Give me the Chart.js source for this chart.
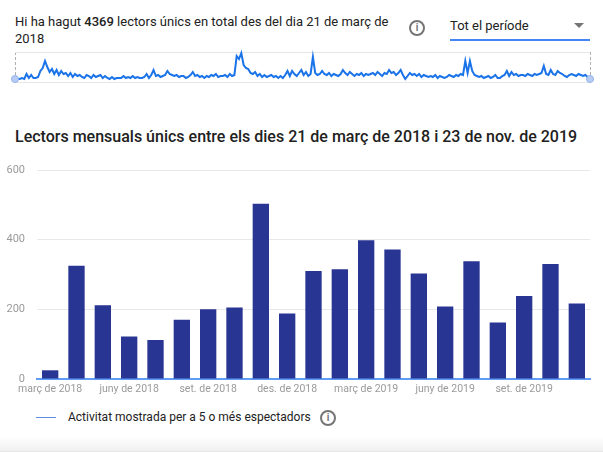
<!DOCTYPE html>
<html>
<head>
<meta charset="utf-8">
<script src="https://cdn.jsdelivr.net/npm/chart.js@4"></script>
<style>
html, body { margin: 0; padding: 0; background: #fff; overflow: hidden; }
body { width: 603px; height: 452px; position: relative; font-family: Roboto, sans-serif; color: #212121; }
.abs { position: absolute; }
#resum { left: 15px; top: 13px; width: 385px; font-size: 13px; line-height: 17px; color: #212121; }
#resum b { font-weight: 500; }
#periode { left: 450px; top: 18px; font-size: 13px; }
#subratllat { left: 450px; top: 39px; width: 140px; height: 2px; background: #4285f4; }
#triangle { left: 574px; top: 23px; width: 0; height: 0; border-left: 5px solid transparent; border-right: 5px solid transparent; border-top: 5px solid #757575; }
#titol { left: 15px; top: 127px; font-size: 16px; font-weight: 500; white-space: nowrap; }
#liniaLlegenda { left: 36px; top: 417px; width: 20px; height: 1px; background: #5f8fdc; }
#llegenda { left: 68px; top: 410px; font-size: 12px; white-space: nowrap; }
#ombra { left: 0; top: 425px; width: 603px; height: 27px; background: linear-gradient(#ffffff, #ffffff 40%, #f1f1f1 96%, #dddddd); }
.info { width: 12px; height: 12px; border: 2px solid #757575; border-radius: 50%; color: #757575; font-size: 10px; font-weight: 700; line-height: 12px; text-align: center; }
#sparkCanvasWrap { left: 5px; top: 42px; width: 595px; height: 50px; }
#barCanvasWrap { left: 0; top: 150px; width: 603px; height: 251px; }
</style>
</head>
<body>
<div class="abs" id="ombra"></div>
<div class="abs" id="resum">Hi ha hagut <b>4369</b> lectors únics en total des del dia 21 de març de 2018</div>
<div class="abs info" style="left:409px;top:20px">i</div>
<div class="abs" id="periode">Tot el període</div>
<div class="abs" id="triangle"></div>
<div class="abs" id="subratllat"></div>
<div class="abs" id="sparkCanvasWrap"><canvas id="graficaDiaria"></canvas></div>
<div class="abs" id="titol">Lectors mensuals únics entre els dies 21 de març de 2018 i 23 de nov. de 2019</div>
<div class="abs" id="barCanvasWrap"><canvas id="graficaMensual"></canvas></div>
<div class="abs" id="liniaLlegenda"></div>
<div class="abs" id="llegenda">Activitat mostrada per a 5 o més espectadors</div>
<div class="abs info" style="left:320px;top:410px">i</div>
<script>
// Lectors per mes
var mesos = ['març de 2018','abr. de 2018','maig de 2018','juny de 2018','jul. de 2018','ag. de 2018','set. de 2018','oct. de 2018','nov. de 2018','des. de 2018','gen. de 2019','febr. de 2019','març de 2019','abr. de 2019','maig de 2019','juny de 2019','jul. de 2019','ag. de 2019','set. de 2019','oct. de 2019','nov. de 2019'];
var lectorsMes = [25,325,212,122,112,170,200,205,503,188,310,315,398,372,303,208,338,162,238,330,217];

// Lectors per dia (mostra llegida de la miniatura)
var lectorsDia = [
0,0,0,1,0,5,1,4,1,1,
2,8,11,18,12,7,10,5,9,4,
8,5,6,3,6,2,5,3,4,2,
1,4,3,1,4,2,3,4,1,3,
1,0,2,0,1,1,1,3,1,2,
1,3,1,2,1,1,2,5,1,4,
9,3,4,2,3,4,8,5,4,3,
4,2,3,3,1,2,4,7,3,4,
2,3,1,3,2,4,3,5,2,3,
3,4,2,5,3,4,23,20,26,14,
11,10,6,5,7,3,5,2,4,2,
3,4,2,3,1,3,1,4,8,3,
8,5,3,6,9,4,7,3,5,22,
6,4,5,8,5,4,6,3,5,4,
3,5,9,6,4,7,5,3,5,4,
6,3,5,4,5,6,4,7,5,3,
6,5,9,6,7,4,6,9,4,0,
3,6,4,5,3,5,2,4,3,2,
3,2,4,1,3,2,1,2,4,3,
2,4,3,5,4,18,6,18,8,4,
3,2,3,1,2,3,1,2,4,1,
1,3,4,8,3,7,4,5,3,4,
4,3,5,4,3,5,4,5,6,13,
5,4,9,5,4,8,6,5,3,2,
4,5,4,3,5,4,3,4,2,0
];

var diesIndex = lectorsDia.map(function (v, i) { return i; });

new Chart(document.getElementById('graficaDiaria').getContext('2d'), {
    type: 'line',
    data: {
        labels: diesIndex,
        datasets: [{
            data: lectorsDia,
            borderColor: '#1a73e8',
            borderWidth: 2,
            tension: 0,
            clip: false,
            pointRadius: function (ctx) {
                return (ctx.dataIndex === 0 || ctx.dataIndex === lectorsDia.length - 1) ? 3.5 : 0;
            },
            pointBackgroundColor: '#b9cdf3',
            pointBorderColor: '#8fb2ee',
            pointBorderWidth: 1
        }]
    },
    options: {
        responsive: true,
        maintainAspectRatio: false,
        animation: false,
        layout: { padding: { left: 10, right: 10, top: 10, bottom: 10 } },
        plugins: { legend: { display: false }, tooltip: { enabled: false } },
        scales: {
            x: {
                type: 'linear',
                min: 0,
                max: lectorsDia.length - 1,
                ticks: { display: false, stepSize: lectorsDia.length - 1 },
                border: { display: false, dash: [3, 2] },
                grid: { color: '#b0b0b0', drawTicks: false },
                afterFit: function (s) { s.height = 0; }
            },
            y: {
                min: -3,
                max: 27,
                ticks: { display: false, stepSize: 30 },
                border: { display: false },
                grid: { color: '#e6e6e6', drawTicks: false },
                afterFit: function (s) { s.width = 0; }
            }
        }
    }
});

new Chart(document.getElementById('graficaMensual').getContext('2d'), {
    type: 'bar',
    data: {
        labels: mesos,
        datasets: [{
            data: lectorsMes,
            backgroundColor: '#283593',
            barPercentage: 0.62,
            categoryPercentage: 1
        }]
    },
    options: {
        responsive: true,
        maintainAspectRatio: false,
        animation: false,
        layout: { padding: { top: 20, right: 13, left: 0, bottom: 0 } },
        plugins: { legend: { display: false }, tooltip: { enabled: false } },
        scales: {
            x: {
                border: { color: '#5f9df7', width: 2 },
                grid: { display: false },
                ticks: {
                    autoSkip: false,
                    maxRotation: 0,
                    padding: -4,
                    color: '#9a9a9a',
                    font: { family: 'Roboto', size: 10.5 },
                    callback: function (v, i) { return i % 3 === 0 ? mesos[i] : ''; }
                },
                afterFit: function (s) { s.height = 22; }
            },
            y: {
                min: 0,
                max: 600,
                ticks: {
                    stepSize: 200,
                    padding: 12,
                    color: '#9a9a9a',
                    font: { family: 'Roboto', size: 11 }
                },
                border: { display: false },
                grid: { color: '#e8e8e8', drawTicks: false },
                afterFit: function (s) { s.width = 37; }
            }
        }
    }
});
</script>
</body>
</html>
